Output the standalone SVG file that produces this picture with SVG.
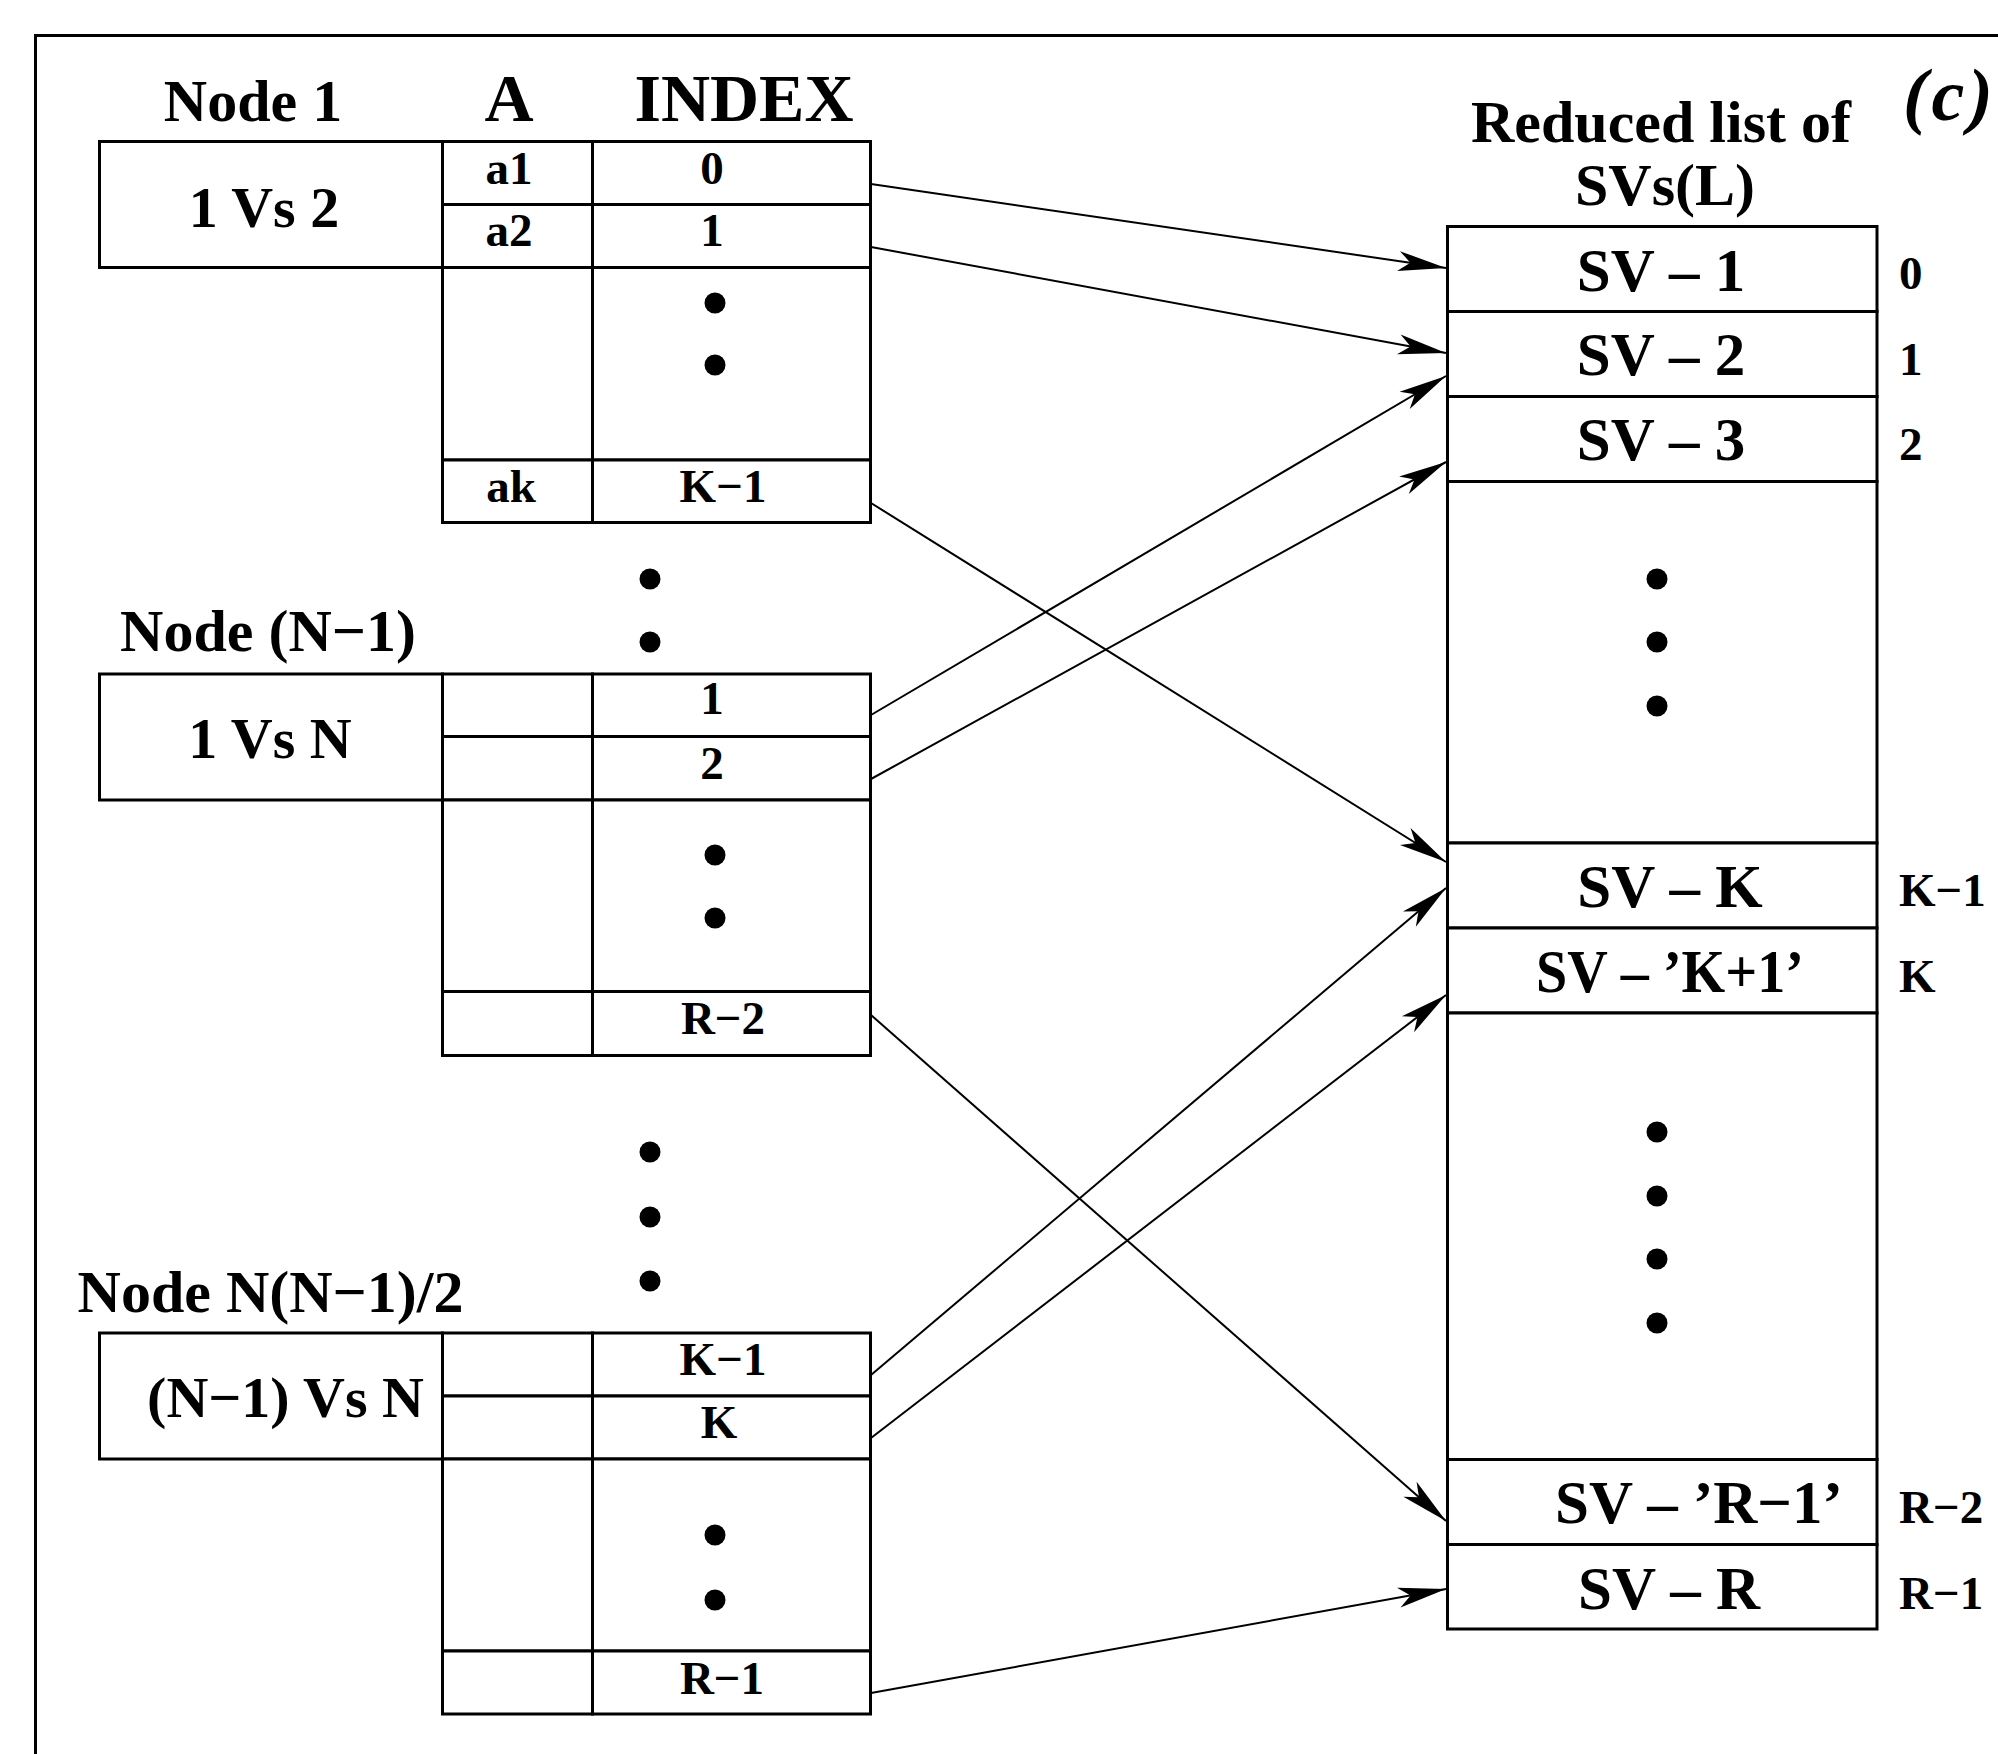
<svg xmlns="http://www.w3.org/2000/svg" width="1998" height="1754" viewBox="0 0 1998 1754">
<defs>
<style>
text{font-family:"Liberation Serif","Times New Roman",serif;font-weight:bold;fill:#000}
.h{font-size:60px;text-anchor:middle}
.hb{font-size:68px;text-anchor:middle}
.nb{font-size:58px;text-anchor:middle}
.c{font-size:47px;text-anchor:middle}
.sv{font-size:61px;text-anchor:middle}
.ix{font-size:47px;text-anchor:start}
.cell{fill:#fff;stroke:#000;stroke-width:3}
.ln{stroke:#000;stroke-width:3;fill:none}
.conn{stroke:#000;stroke-width:2;fill:none;marker-end:url(#ah)}
.dot{fill:#000}
</style>
<marker id="ah" markerUnits="userSpaceOnUse" viewBox="-50 -12 52 24" refX="0" refY="0" markerWidth="52" markerHeight="24" orient="auto">
<path d="M0,0 L-48,-10 L-36,0 L-48,10 Z" fill="#000"/>
</marker>
</defs>
<rect width="1998" height="1754" fill="#fff"/>
<path class="ln" d="M35.5,1760 V35.5 H2005"/>

<g id="label-c"><text x="1903" y="120" textLength="90" lengthAdjust="spacing" style="font-size:74px;font-style:italic">(c)</text></g>

<g id="node1">
<text class="h" x="253" y="121">Node 1</text>
<text class="hb" x="509" y="121">A</text>
<text class="hb" x="744" y="121">INDEX</text>
<rect class="cell" x="99.5" y="141.5" width="343" height="126"/>
<rect class="cell" x="442.5" y="141.5" width="150" height="63"/>
<rect class="cell" x="592.5" y="141.5" width="278" height="63"/>
<rect class="cell" x="442.5" y="204.5" width="150" height="63"/>
<rect class="cell" x="592.5" y="204.5" width="278" height="63"/>
<rect class="cell" x="442.5" y="267.5" width="150" height="192.5"/>
<rect class="cell" x="592.5" y="267.5" width="278" height="192.5"/>
<rect class="cell" x="442.5" y="460" width="150" height="62.5"/>
<rect class="cell" x="592.5" y="460" width="278" height="62.5"/>
<text class="nb" x="264" y="227">1 Vs 2</text>
<text class="c" x="509" y="184">a1</text>
<text class="c" x="712" y="184">0</text>
<text class="c" x="509" y="246">a2</text>
<text class="c" x="712" y="246">1</text>
<circle class="dot" cx="715" cy="303" r="10.5"/>
<circle class="dot" cx="715" cy="365" r="10.5"/>
<text class="c" x="511" y="502">ak</text>
<text class="c" x="723" y="502">K−1</text>
</g>

<g id="dots-left-1">
<circle class="dot" cx="650" cy="579" r="10.5"/>
<circle class="dot" cx="650" cy="642" r="10.5"/>
</g>

<g id="nodeN1">
<text class="h" x="268" y="651">Node (N−1)</text>
<rect class="cell" x="99.5" y="674" width="343" height="126"/>
<rect class="cell" x="442.5" y="674" width="150" height="62.5"/>
<rect class="cell" x="592.5" y="674" width="278" height="62.5"/>
<rect class="cell" x="442.5" y="736.5" width="150" height="63.5"/>
<rect class="cell" x="592.5" y="736.5" width="278" height="63.5"/>
<rect class="cell" x="442.5" y="800" width="150" height="191.5"/>
<rect class="cell" x="592.5" y="800" width="278" height="191.5"/>
<rect class="cell" x="442.5" y="991.5" width="150" height="64"/>
<rect class="cell" x="592.5" y="991.5" width="278" height="64"/>
<text class="nb" x="270" y="757.5">1 Vs N</text>
<text class="c" x="712" y="714">1</text>
<text class="c" x="712" y="778.5">2</text>
<circle class="dot" cx="715" cy="855" r="10.5"/>
<circle class="dot" cx="715" cy="918" r="10.5"/>
<text class="c" x="723" y="1034">R−2</text>
</g>

<g id="dots-left-2">
<circle class="dot" cx="650" cy="1152" r="10.5"/>
<circle class="dot" cx="650" cy="1217" r="10.5"/>
<circle class="dot" cx="650" cy="1281" r="10.5"/>
</g>

<g id="nodeLast">
<text class="h" x="270.5" y="1312">Node N(N−1)/2</text>
<rect class="cell" x="99.5" y="1333" width="343" height="126"/>
<rect class="cell" x="442.5" y="1333" width="150" height="63"/>
<rect class="cell" x="592.5" y="1333" width="278" height="63"/>
<rect class="cell" x="442.5" y="1396" width="150" height="63"/>
<rect class="cell" x="592.5" y="1396" width="278" height="63"/>
<rect class="cell" x="442.5" y="1459" width="150" height="192"/>
<rect class="cell" x="592.5" y="1459" width="278" height="192"/>
<rect class="cell" x="442.5" y="1651" width="150" height="63"/>
<rect class="cell" x="592.5" y="1651" width="278" height="63"/>
<text class="nb" x="285.5" y="1417">(N−1) Vs N</text>
<text class="c" x="723" y="1375">K−1</text>
<text class="c" x="719" y="1437.5">K</text>
<circle class="dot" cx="715" cy="1535" r="10.5"/>
<circle class="dot" cx="715" cy="1600" r="10.5"/>
<text class="c" x="722" y="1694">R−1</text>
</g>

<g id="reduced-list">
<text class="h" x="1661" y="142">Reduced list of</text>
<text class="h" x="1665" y="205">SVs(L)</text>
<rect class="cell" x="1447.5" y="226.5" width="429.5" height="85"/>
<rect class="cell" x="1447.5" y="311.5" width="429.5" height="85"/>
<rect class="cell" x="1447.5" y="396.5" width="429.5" height="85"/>
<rect class="cell" x="1447.5" y="481.5" width="429.5" height="361.5"/>
<rect class="cell" x="1447.5" y="843" width="429.5" height="85"/>
<rect class="cell" x="1447.5" y="928" width="429.5" height="85"/>
<rect class="cell" x="1447.5" y="1013" width="429.5" height="446.5"/>
<rect class="cell" x="1447.5" y="1459.5" width="429.5" height="85"/>
<rect class="cell" x="1447.5" y="1544.5" width="429.5" height="84.5"/>
<text class="sv" x="1661" y="291">SV – 1</text>
<text class="sv" x="1661" y="375">SV – 2</text>
<text class="sv" x="1661" y="460">SV – 3</text>
<circle class="dot" cx="1657" cy="579" r="10.5"/>
<circle class="dot" cx="1657" cy="642" r="10.5"/>
<circle class="dot" cx="1657" cy="706" r="10.5"/>
<text class="sv" x="1670" y="907">SV – K</text>
<text class="sv" x="1670" y="992" textLength="268" lengthAdjust="spacingAndGlyphs">SV – ’K+1’</text>
<circle class="dot" cx="1657" cy="1132" r="10.5"/>
<circle class="dot" cx="1657" cy="1196" r="10.5"/>
<circle class="dot" cx="1657" cy="1259" r="10.5"/>
<circle class="dot" cx="1657" cy="1323" r="10.5"/>
<text class="sv" x="1699" y="1523">SV – ’R−1’</text>
<text class="sv" x="1669" y="1609">SV – R</text>
<text class="ix" x="1899" y="289">0</text>
<text class="ix" x="1899" y="375">1</text>
<text class="ix" x="1899" y="460">2</text>
<text class="ix" x="1899" y="906">K−1</text>
<text class="ix" x="1899" y="992">K</text>
<text class="ix" x="1899" y="1523">R−2</text>
<text class="ix" x="1899" y="1609">R−1</text>
</g>

<g id="connectors">
<line class="conn" x1="871" y1="184" x2="1446" y2="268"/>
<line class="conn" x1="871" y1="247" x2="1446" y2="353"/>
<line class="conn" x1="871" y1="503" x2="1446" y2="862"/>
<line class="conn" x1="871" y1="715" x2="1446" y2="376"/>
<line class="conn" x1="871" y1="779" x2="1446" y2="462"/>
<line class="conn" x1="871" y1="1015" x2="1446" y2="1521"/>
<line class="conn" x1="871" y1="1375" x2="1446" y2="888"/>
<line class="conn" x1="871" y1="1438" x2="1446" y2="995"/>
<line class="conn" x1="871" y1="1693" x2="1446" y2="1589"/>
</g>
</svg>
